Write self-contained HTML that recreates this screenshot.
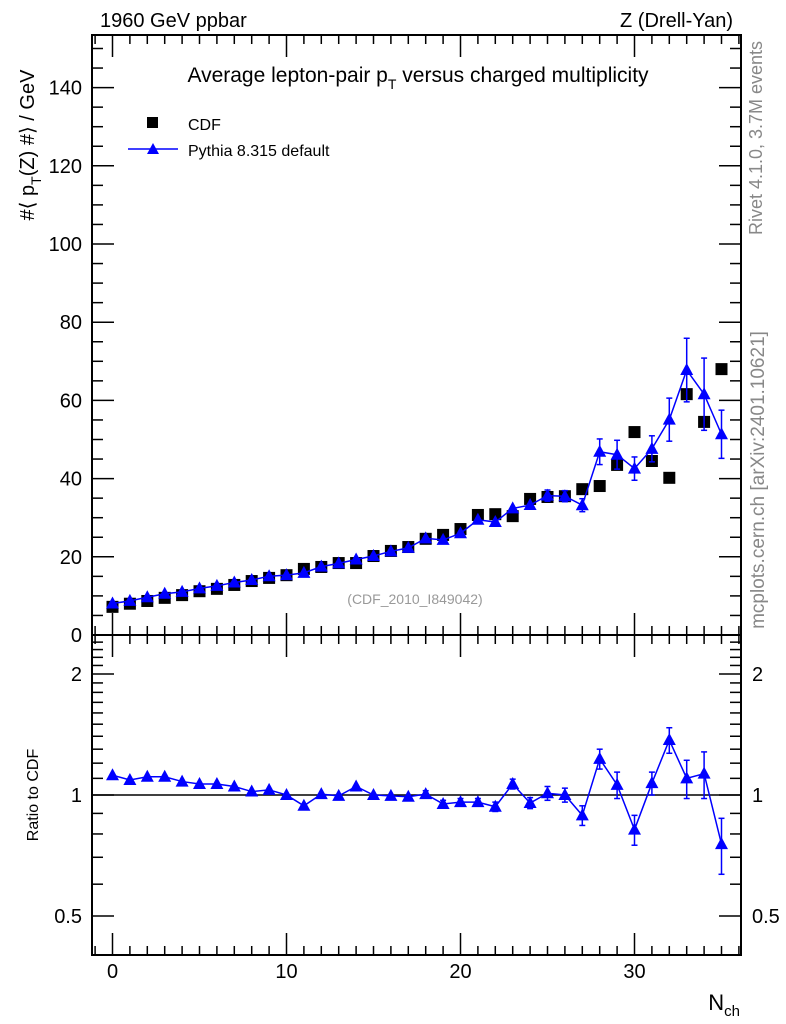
<!DOCTYPE html>
<html><head><meta charset="utf-8"><style>body{margin:0;background:#fff}svg{display:block;font-family:"Liberation Sans",Arial,sans-serif}</style></head>
<body><svg id="s" width="786" height="1024" xmlns="http://www.w3.org/2000/svg"></svg>
<script>
const cdf=[7.2,8,8.7,9.5,10.2,11.2,11.8,12.8,13.8,14.6,15.3,16.9,17.4,18.4,18.4,20.2,21.5,22.5,24.6,25.6,27.1,30.7,30.9,30.4,34.8,35.3,35.5,37.3,38.1,43.5,51.9,44.5,40.2,61.6,54.5,68];
const rat=[1.12,1.09,1.11,1.11,1.08,1.065,1.065,1.05,1.02,1.03,1.0,0.94,1.005,0.995,1.05,1.0,0.995,0.99,1.005,0.95,0.96,0.96,0.935,1.065,0.955,1.01,1.0,0.89,1.23,1.06,0.82,1.07,1.37,1.1,1.13,0.755];
const rer=[.01,.01,.01,.01,.01,.01,.01,.01,.01,.01,.01,.015,.01,.01,.015,.01,.015,.015,.02,.02,.02,.02,.025,.03,.03,.04,.04,.05,.07,.08,.07,.07,.1,.12,.15,.12];
const X=n=>112.5+17.4*n, Y=v=>635-3.91*v, R=r=>795-174.6*Math.log(r);
let h='';
const L=(a,b,c,d,w=2,col='#000')=>h+=`<line x1="${a}" y1="${b}" x2="${c}" y2="${d}" stroke="${col}" stroke-width="${w}"/>`;
const T=(x,y,t,sz=20,anc='middle',col='#000',ex='')=>h+=`<text x="${x}" y="${y}" font-size="${sz}" text-anchor="${anc}" fill="${col}" ${ex}>${t}</text>`;
h+=`<rect x="92" y="35" width="649" height="600" fill="none" stroke="#000" stroke-width="2"/>`;
h+=`<rect x="92" y="635" width="649" height="320" fill="none" stroke="#000" stroke-width="2"/>`;
for(let n=-1;n<=36;n++){const x=X(n);if(x<93||x>740)continue;const big=n%10==0;const l=big?22:9;
L(x,635,x,635-l,1.5);L(x,35,x,35+l,1.5);L(x,955,x,955-l,1.5);L(x,635,x,635+l,1.5);
if(big)T(x,978,n,20);}
for(let v=0;v<=150;v+=5){const y=Y(v);const big=v%20==0;const l=big?22:11;L(92,y,92+l,y,1.5);L(741,y,741-l,y,1.5);if(big)T(82,y+7,v,20,'end');}
[0.5,0.6,0.7,0.8,0.9,1,1.1,1.2,1.3,1.4,1.5,1.6,1.7,1.8,1.9,2,2.1,2.2,2.3,2.4].forEach(r=>{const y=R(r);const big=(r==0.5||r==1||r==2);const l=big?22:11;L(92,y,92+l,y,1.5);L(741,y,741-l,y,1.5);if(big){T(82,y+7,r,20,'end');T(752,y+7,r,20,'start');}});
L(92,795,741,795,1.5);
T(100,27,'1960 GeV ppbar',20,'start');T(733,27,'Z (Drell-Yan)',20,'end');
h+=`<text x="418" y="82" font-size="21" text-anchor="middle">Average lepton-pair p<tspan font-size="14" dy="7">T</tspan><tspan dy="-7"> versus charged multiplicity</tspan></text>`;
T(415,604,'(CDF_2010_I849042)',14,'middle','#999');
h+=`<text transform="translate(34,145) rotate(-90)" font-size="20" text-anchor="middle">#⟨ p<tspan font-size="14" dy="7">T</tspan><tspan dy="-7">(Z) #⟩ / GeV</tspan></text>`;
h+=`<text transform="translate(38,795) rotate(-90)" font-size="16" text-anchor="middle">Ratio to CDF</text>`;
h+=`<text x="740" y="1010" font-size="22" text-anchor="end">N<tspan font-size="15" dy="6">ch</tspan></text>`;
h+=`<text transform="translate(762,138) rotate(-90)" font-size="18" text-anchor="middle" fill="#888">Rivet 4.1.0,  3.7M events</text>`;
h+=`<text transform="translate(764,480) rotate(-90)" font-size="19" text-anchor="middle" fill="#888">mcplots.cern.ch [arXiv:2401.10621]</text>`;
h+=`<rect x="147" y="117" width="11" height="11" fill="#000"/>`;T(188,130,'CDF',16,'start');
L(128,149,178,149,1.5,'#00f');h+=`<polygon points="153,143 147,154 159,154" fill="#00f"/>`;T(188,156,'Pythia 8.315 default',16,'start');
cdf.forEach((v,n)=>h+=`<rect x="${X(n)-6}" y="${Y(v)-6}" width="12" height="12" fill="#000"/>`);
const py=cdf.map((v,i)=>v*rat[i]);
const tri=(x,y)=>`<polygon points="${x},${y-7} ${x-6.5},${y+5} ${x+6.5},${y+5}" fill="#00f"/>`;
h+=`<polyline fill="none" stroke="#00f" stroke-width="1.5" points="${py.map((v,i)=>X(i)+','+Y(v)).join(' ')}"/>`;
py.forEach((v,i)=>{const e=v*rer[i];const x=X(i);if(e*3.91>4){L(x,Y(v-e),x,Y(v+e),1.5,'#00f');L(x-3,Y(v-e),x+3,Y(v-e),1.5,'#00f');L(x-3,Y(v+e),x+3,Y(v+e),1.5,'#00f');}h+=tri(x,Y(v));});
h+=`<polyline fill="none" stroke="#00f" stroke-width="1.5" points="${rat.map((r,i)=>X(i)+','+R(r)).join(' ')}"/>`;
rat.forEach((r,i)=>{const x=X(i),e=rer[i];if(e>=.02){L(x,R(r-e),x,R(r+e),1.5,'#00f');L(x-3,R(r-e),x+3,R(r-e),1.5,'#00f');L(x-3,R(r+e),x+3,R(r+e),1.5,'#00f');}h+=tri(x,R(r));});
document.getElementById('s').innerHTML=h;
</script></body></html>
